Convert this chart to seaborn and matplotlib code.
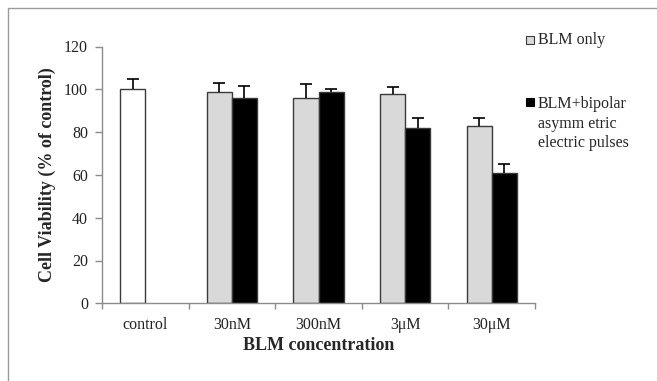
import pandas as pd
import matplotlib
matplotlib.use("Agg")
import matplotlib.pyplot as plt
import seaborn as sns
from matplotlib.patches import Rectangle

# Data
concentrations = ["control", "30nM", "300nM", "3\u03bcM", "30\u03bcM"]
blm_only = [100.0, 98.7, 95.9, 97.7, 82.9]
blm_only_err = [4.8, 4.2, 6.4, 3.5, 3.5]
blm_pulses = [95.9, 98.7, 81.8, 61.0]          # no pulse bar for control
blm_pulses_err = [5.8, 1.3, 4.6, 4.2]
groups = ["BLM only", "BLM+bipolar asymmetric electric pulses"]

rows = []
for c, v, e in zip(concentrations, blm_only, blm_only_err):
    rows.append({"conc": c, "group": groups[0], "value": v, "err": e})
for c, v, e in zip(concentrations[1:], blm_pulses, blm_pulses_err):
    rows.append({"conc": c, "group": groups[1], "value": v, "err": e})
df = pd.DataFrame(rows)

sns.set_theme(style="white")
plt.rcParams["font.family"] = ["Liberation Serif", "DejaVu Serif"]

fig = plt.figure(figsize=(6.57, 3.81), dpi=100)
ax = fig.add_axes([102 / 657, 1 - 303.3 / 381, 433 / 657, (303.3 - 46.5) / 381])

edge = "#3a3a3a"
sns.barplot(data=df, x="conc", y="value", hue="group", order=concentrations,
            hue_order=groups, palette=["#d9d9d9", "#000000"], width=0.58,
            gap=0, errorbar=None, edgecolor=edge, linewidth=1.0,
            saturation=1, legend=False, ax=ax)

# control bar is white
ax.containers[0][0].set_facecolor("white")

# upper-only error bars, taken from the bar positions
for cont, grp in zip(ax.containers, groups):
    sub = df[df["group"] == grp]
    for bar, (_, r) in zip(cont, sub.iterrows()):
        xc = bar.get_x() + bar.get_width() / 2
        top = r["value"] + r["err"]
        ax.vlines(xc, r["value"], top, color="black", lw=1.2, zorder=4)
        ax.plot([xc], [top], marker="_", ms=8, mew=1.2, color="black", zorder=4)

ax.set_xlim(-0.5, 4.5)
ax.set_ylim(0, 120)
ax.set_yticks(range(0, 121, 20))
ax.set_xticks(range(len(concentrations)))
ax.set_xticklabels(concentrations)
ax.set_xticks([i + 0.5 for i in range(-1, 5)], minor=True)

spine_c = "#8c8c8c"
for s in ["top", "right"]:
    ax.spines[s].set_visible(False)
for s in ["left", "bottom"]:
    ax.spines[s].set_color(spine_c)
    ax.spines[s].set_linewidth(1.0)

ax.tick_params(axis="y", which="major", direction="out", length=5, width=1,
               color=spine_c, pad=5, labelsize=11.5, left=True)
ax.tick_params(axis="x", which="major", length=0, pad=10, labelsize=11.5)
ax.tick_params(axis="x", which="minor", direction="out", length=4, width=1,
               color=spine_c, bottom=True)
for lab in ax.get_xticklabels() + ax.get_yticklabels():
    lab.set_color("#222222")

ax.set_xlabel("BLM concentration", fontsize=13, fontweight="bold", labelpad=2.5)
ax.set_ylabel("Cell Viability (% of control)", fontsize=13, fontweight="bold",
              labelpad=6)

# legend drawn Excel style (handle next to first line of label)
W, H = 657, 381
def fx(px):
    return px / W
def fy(py):
    return 1 - py / H

fig.patches.append(Rectangle((fx(526), fy(43.5)), fx(8), 8 / H, transform=fig.transFigure,
                             facecolor="#d9d9d9", edgecolor=edge, lw=0.8))
fig.text(fx(538), fy(40), "BLM only", fontsize=11.5, va="center", ha="left")
fig.patches.append(Rectangle((fx(526), fy(106)), fx(8), 8 / H, transform=fig.transFigure,
                             facecolor="black", edgecolor="black", lw=0.8))
fig.text(fx(538), fy(96.5), "BLM+bipolar\nasymm etric\nelectric pulses", fontsize=11.5,
         va="top", ha="left", linespacing=1.28)

# outer frame of the original picture
fig.patches.append(Rectangle((fx(7.5), -0.1), 1.2, fy(7.5) + 0.1, transform=fig.transFigure,
                             fill=False, edgecolor="#9a9a9a", lw=1.0))

fig.savefig("out.png", dpi=100)
